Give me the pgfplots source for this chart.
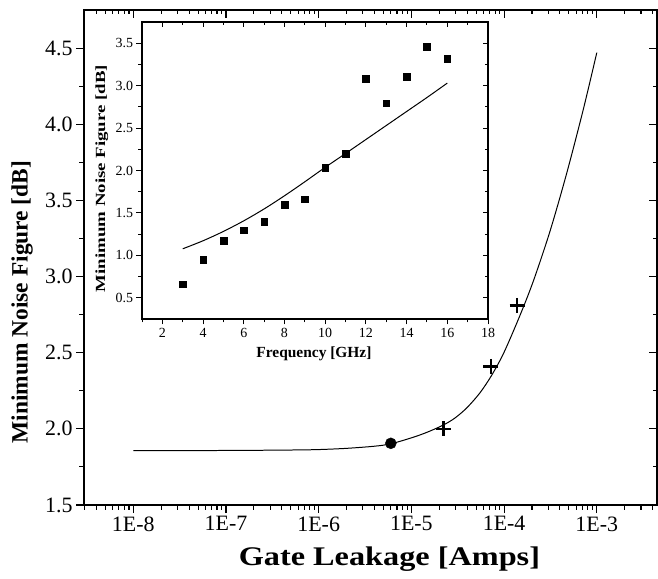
\documentclass[border=0pt]{standalone}
\usepackage{pgfplots}
\pgfplotsset{compat=1.18}
\usepackage{fontspec}
\setmainfont{Liberation Serif}
\newfontfamily\wideserif{Liberation Serif}[FakeStretch=1.2]
\newfontfamily\tallserif{Liberation Serif}[FakeStretch=1.35]

\pgfplotstableread{
x y
1e-8 1.857
1e-7 1.858
5e-7 1.861
1e-6 1.864
2e-6 1.872
4e-6 1.886
6.03e-6 1.902
1.05e-5 1.945
1.51e-5 1.98
2.21e-5 2.025
2.95e-5 2.071
3.98e-5 2.139
5.5e-5 2.237
7.35e-5 2.352
1e-4 2.503
1.51e-4 2.756
2.09e-4 2.978
3.13e-4 3.298
4.73e-4 3.677
7.15e-4 4.097
1e-3 4.47
}\maincurve

\pgfplotstableread{
x y
3 0.662
4 0.948
5 1.171
6 1.297
7 1.395
8 1.60
9 1.66
10 2.03
11 2.20
12 3.08
13 2.795
14 3.105
15 3.46
16 3.32
}\insetsq

\pgfplotstableread{
x y
3 1.077
4 1.172
5 1.282
6 1.407
7 1.547
8 1.702
9 1.867
10 2.037
11 2.20
12 2.365
13 2.53
14 2.695
15 2.86
16 3.03
}\insetline

\begin{document}
\begin{tikzpicture}
% main axis
\begin{axis}[
  scale only axis, width=573bp, height=495bp,
  at={(0,0)}, anchor=south west,
  xmode=log, xmin=2.94e-9, xmax=4.46e-3, ymin=1.5, ymax=4.75,
  axis line style={line width=1.3pt},
  major tick length=8bp, minor tick length=4.5bp,
  tick style={line width=1.1pt, black},
  xtick={1e-8,1e-7,1e-6,1e-5,1e-4,1e-3},
  minor xtick={3e-9,4e-9,5e-9,6e-9,7e-9,8e-9,9e-9,2e-8,3e-8,4e-8,5e-8,6e-8,7e-8,8e-8,9e-8,2e-7,3e-7,4e-7,5e-7,6e-7,7e-7,8e-7,9e-7,2e-6,3e-6,4e-6,5e-6,6e-6,7e-6,8e-6,9e-6,2e-5,3e-5,4e-5,5e-5,6e-5,7e-5,8e-5,9e-5,2e-4,3e-4,4e-4,5e-4,6e-4,7e-4,8e-4,9e-4,2e-3,3e-3,4e-3},
  ytick={1.5,2.0,...,4.5},
  minor ytick={1.75,2.25,...,4.25},
  xtick pos=lower, ytick pos=lower, tick align=outside,
  xticklabels={1E-8,1E-7,1E-6,1E-5,1E-4,1E-3},
  /pgf/number format/assume math mode=true,
  yticklabel style={/pgf/number format/fixed,/pgf/number format/fixed zerofill,/pgf/number format/precision=1},
  ticklabel style={font=\fontsize{22}{22}\selectfont},
  xlabel={Gate Leakage [Amps]},
  ylabel={Minimum Noise Figure [dB]},
  xlabel style={at={(axis description cs:0.533,-0.11)}, anchor=center, font=\wideserif\bfseries\fontsize{27}{28}\selectfont},
  ylabel style={at={(axis description cs:-0.108,0.41)}, anchor=center, font=\bfseries\fontsize{23.5}{24}\selectfont},
]
\addplot[black, line width=1pt, smooth, no markers] table[x=x,y=y] {\maincurve};
\addplot[only marks, mark=*, mark size=5.5bp, black] coordinates {(6e-6,1.905)};
\addplot[only marks, mark=+, mark size=7.5bp, black, mark options={line width=2.4pt}] coordinates {(2.21e-5,2.0) (7.2e-5,2.41) (1.38e-4,2.81)};
\end{axis}
% main overlay: top/right ticks pointing inward
\begin{axis}[
  scale only axis, width=573bp, height=495bp,
  at={(0,0)}, anchor=south west,
  xmode=log, xmin=2.94e-9, xmax=4.46e-3, ymin=1.5, ymax=4.75,
  axis line style={line width=1.3pt},
  major tick length=8bp, minor tick length=4.5bp,
  tick style={line width=1.1pt, black},
  xtick={1e-8,1e-7,1e-6,1e-5,1e-4,1e-3},
  minor xtick={3e-9,4e-9,5e-9,6e-9,7e-9,8e-9,9e-9,2e-8,3e-8,4e-8,5e-8,6e-8,7e-8,8e-8,9e-8,2e-7,3e-7,4e-7,5e-7,6e-7,7e-7,8e-7,9e-7,2e-6,3e-6,4e-6,5e-6,6e-6,7e-6,8e-6,9e-6,2e-5,3e-5,4e-5,5e-5,6e-5,7e-5,8e-5,9e-5,2e-4,3e-4,4e-4,5e-4,6e-4,7e-4,8e-4,9e-4,2e-3,3e-3,4e-3},
  ytick={1.5,2.0,...,4.5},
  minor ytick={1.75,2.25,...,4.25},
  xtick pos=upper, ytick pos=upper, tick align=inside,
  xticklabels={}, yticklabels={},
]
\addplot[draw=none, no markers] coordinates {(1e-6,2) (1e-5,3)};
\end{axis}
% inset
\begin{axis}[
  scale only axis, width=346bp, height=297bp,
  at={(58bp,186bp)}, anchor=south west,
  xmin=1, xmax=18, ymin=0.25, ymax=3.75,
  axis line style={line width=1.1pt},
  major tick length=5.5bp, minor tick length=3.5bp,
  tick style={line width=0.9pt, black},
  xtick={2,4,...,18}, minor xtick={1,3,...,17},
  ytick={0.5,1.0,...,3.5}, minor ytick={0.75,1.25,...,3.25},
  xtick pos=lower, ytick pos=lower, tick align=outside,
  /pgf/number format/assume math mode=true,
  yticklabel style={/pgf/number format/fixed,/pgf/number format/fixed zerofill,/pgf/number format/precision=1},
  ticklabel style={font=\fontsize{14}{14}\selectfont},
  xlabel={Frequency [GHz]},
  ylabel={Minimum Noise Figure [dB]},
  xlabel style={at={(axis description cs:0.497,-0.118)}, anchor=center, font=\bfseries\fontsize{15.5}{16}\selectfont},
  ylabel style={at={(axis description cs:-0.116,0.473)}, anchor=center, font=\tallserif\bfseries\fontsize{14}{14}\selectfont},
]
\addplot[black, line width=1pt, smooth, no markers] table[x=x,y=y] {\insetline};
\addplot[only marks, mark=square*, mark size=3.3bp, black] table[x=x,y=y] {\insetsq};
\end{axis}
\begin{axis}[
  scale only axis, width=346bp, height=297bp,
  at={(58bp,186bp)}, anchor=south west,
  xmin=1, xmax=18, ymin=0.25, ymax=3.75,
  axis line style={line width=1.1pt},
  major tick length=5.5bp, minor tick length=3.5bp,
  tick style={line width=0.9pt, black},
  xtick={2,4,...,18}, minor xtick={1,3,...,17},
  ytick={0.5,1.0,...,3.5}, minor ytick={0.75,1.25,...,3.25},
  xtick pos=upper, ytick pos=upper, tick align=inside,
  xticklabels={}, yticklabels={},
]
\addplot[draw=none, no markers] coordinates {(5,1) (10,2)};
\end{axis}
\pgfresetboundingbox
\path (-84bp,-74bp) rectangle (574bp,505bp);
\end{tikzpicture}
\end{document}
